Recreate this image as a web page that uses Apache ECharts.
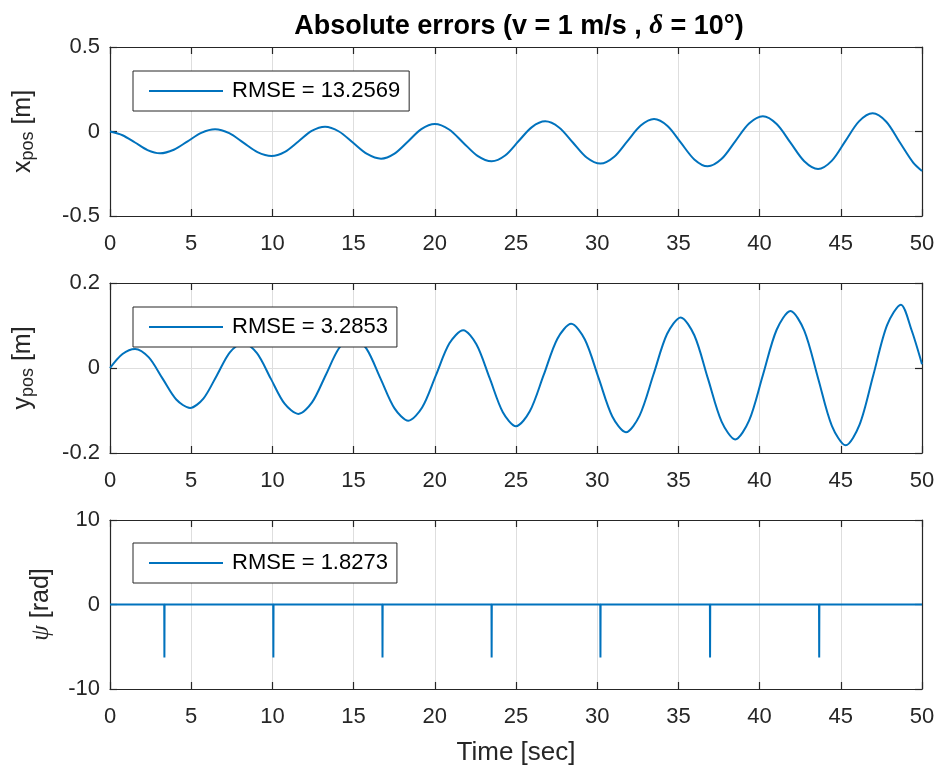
<!DOCTYPE html>
<html>
<head>
<meta charset="utf-8">
<script src="https://cdn.jsdelivr.net/npm/echarts@6/dist/echarts.min.js"></script>
<style>html,body{margin:0;padding:0;background:#fff;}#c{width:941px;height:773px;}</style>
</head>
<body>
<div id="c"></div>
<script>
// ---- data ----
const xTicks = [0, 5, 10, 15, 20, 25, 30, 35, 40, 45, 50];

const xErrT = [0, 0.77, 1.54, 2.31, 3.08, 3.93, 4.78, 5.62, 6.47, 7.34, 8.21, 9.08, 9.95, 10.77, 11.6, 12.42, 13.24, 14.1, 14.97, 15.83, 16.69, 17.52, 18.35, 19.17, 20.0, 20.88, 21.75, 22.63, 23.5, 24.33, 25.15, 25.98, 26.8, 27.65, 28.5, 29.35, 30.2, 31.03, 31.85, 32.68, 33.5, 34.33, 35.15, 35.98, 36.8, 37.65, 38.5, 39.35, 40.2, 41.05, 41.9, 42.75, 43.6, 44.44, 45.28, 46.12, 46.96, 47.8, 48.63, 49.47, 50];
const xErrV = [0, -0.022, -0.065, -0.110, -0.129, -0.108, -0.058, -0.008, 0.013, -0.010, -0.066, -0.122, -0.145, -0.120, -0.059, 0.003, 0.028, 0.000, -0.067, -0.133, -0.161, -0.131, -0.059, 0.014, 0.044, 0.012, -0.066, -0.144, -0.176, -0.142, -0.058, 0.026, 0.060, 0.024, -0.065, -0.154, -0.190, -0.151, -0.058, 0.035, 0.074, 0.033, -0.066, -0.165, -0.206, -0.163, -0.058, 0.047, 0.090, 0.044, -0.066, -0.176, -0.222, -0.174, -0.057, 0.060, 0.108, 0.058, -0.064, -0.186, -0.234];

const yErrT = [0, 0.77, 1.54, 2.39, 3.24, 4.08, 4.93, 5.75, 6.57, 7.38, 8.2, 9.05, 9.9, 10.75, 11.6, 12.44, 13.28, 14.11, 14.95, 15.8, 16.66, 17.52, 18.37, 19.22, 20.06, 20.9, 21.75, 22.56, 23.38, 24.19, 25.0, 25.85, 26.7, 27.55, 28.4, 29.24, 30.09, 30.93, 31.77, 32.61, 33.46, 34.3, 35.14, 35.98, 36.82, 37.66, 38.5, 39.35, 40.2, 41.05, 41.9, 42.75, 43.6, 44.45, 45.3, 46.15, 47.0, 47.85, 48.7, 49.35, 50];
const yErrV = [0, 0.033, 0.045, 0.025, -0.025, -0.074, -0.094, -0.072, -0.018, 0.037, 0.059, 0.035, -0.025, -0.084, -0.108, -0.081, -0.017, 0.047, 0.074, 0.045, -0.025, -0.095, -0.124, -0.093, -0.018, 0.058, 0.089, 0.056, -0.024, -0.104, -0.137, -0.102, -0.017, 0.069, 0.104, 0.067, -0.024, -0.114, -0.151, -0.112, -0.016, 0.080, 0.119, 0.077, -0.025, -0.126, -0.168, -0.124, -0.017, 0.090, 0.134, 0.088, -0.024, -0.136, -0.182, -0.134, -0.017, 0.101, 0.149, 0.090, 0.009];

const psiT = [0, 3.34, 3.35, 3.36, 10.05, 10.06, 10.07, 16.77, 16.78, 16.79, 23.49, 23.5, 23.51, 30.19, 30.2, 30.21, 36.94, 36.95, 36.96, 43.66, 43.67, 43.68, 50];
const psiV = [0, 0, -6.28, 0, 0, -6.28, 0, 0, -6.28, 0, 0, -6.28, 0, 0, -6.28, 0, 0, -6.28, 0, 0, -6.28, 0, 0];

const seriesNames = ['RMSE = 13.2569', 'RMSE = 3.2853', 'RMSE = 1.8273'];
const yRanges = [[-0.5, 0.5, 0.5], [-0.2, 0.2, 0.2], [-10, 10, 10]];

// ---- styling ----
const FONT = 'Liberation Sans, Arial, Helvetica, sans-serif';
const SERIF = 'Liberation Serif, DejaVu Serif, serif';
const AX = '#262626';
const GRIDC = '#dedede';
const BLUE = '#0072BD';

const zip = (t, v) => t.map((x, i) => [x, v[i]]);

const grids = [
  { left: 110, right: 19, top: 47, height: 169, outerBoundsMode: 'none', containLabel: false },
  { left: 110, right: 19, top: 283, height: 170, outerBoundsMode: 'none', containLabel: false },
  { left: 110, right: 19, top: 520, height: 169, outerBoundsMode: 'none', containLabel: false }
];

const xAxes = [], yAxes = [];
const yNames = [
  { text: '{m|x}{s|pos}{m| [m]}', gap: 73 },
  { text: '{m|y}{s|pos}{m| [m]}', gap: 73 },
  { text: '{g|ψ}{m| [rad]}', gap: 55 }
];
const nameRich = {
  m: { fontSize: 25, fontFamily: FONT, color: AX, verticalAlign: 'top', lineHeight: 26 },
  s: { fontSize: 18, fontFamily: FONT, color: AX, verticalAlign: 'bottom', lineHeight: 18, padding: [18, 0, 0, 0] },
  g: { fontSize: 25, fontFamily: SERIF, fontStyle: 'italic', color: AX, verticalAlign: 'top', lineHeight: 26 }
};

for (let i = 0; i < 3; i++) {
  xAxes.push({
    gridIndex: i, type: 'value', min: 0, max: 50, interval: 5, position: 'bottom',
    axisLine: { show: true, onZero: false, lineStyle: { color: AX, width: 1.2 } },
    axisTick: { show: true, inside: true, length: 7, lineStyle: { color: AX, width: 1.2 } },
    axisLabel: { show: true, margin: 17, fontSize: 22, fontFamily: FONT, color: AX },
    splitLine: { show: true, lineStyle: { color: GRIDC, width: 1 } },
    name: i === 2 ? 'Time [sec]' : '',
    nameLocation: 'middle', nameGap: 51,
    nameTextStyle: { fontSize: 26, fontFamily: FONT, color: AX }
  });
  xAxes.push({
    gridIndex: i, type: 'value', min: 0, max: 50, interval: 5, position: 'top',
    axisLine: { show: true, onZero: false, lineStyle: { color: AX, width: 1.2 } },
    axisTick: { show: true, inside: true, length: 7, lineStyle: { color: AX, width: 1.2 } },
    axisLabel: { show: false }, splitLine: { show: false }
  });
  const r = yRanges[i];
  yAxes.push({
    gridIndex: i, type: 'value', min: r[0], max: r[1], interval: r[2], position: 'left',
    axisLine: { show: true, onZero: false, lineStyle: { color: AX, width: 1.2 } },
    axisTick: { show: true, inside: true, length: 7, lineStyle: { color: AX, width: 1.2 } },
    axisLabel: { show: true, margin: 10, fontSize: 22, fontFamily: FONT, color: AX },
    splitLine: { show: true, lineStyle: { color: GRIDC, width: 1 } },
    name: yNames[i].text, nameLocation: 'middle', nameGap: yNames[i].gap, nameRotate: 90,
    nameTextStyle: { rich: nameRich }
  });
  yAxes.push({
    gridIndex: i, type: 'value', min: r[0], max: r[1], interval: r[2], position: 'right',
    axisLine: { show: true, onZero: false, lineStyle: { color: AX, width: 1.2 } },
    axisTick: { show: true, inside: true, length: 7, lineStyle: { color: AX, width: 1.2 } },
    axisLabel: { show: false }, splitLine: { show: false }
  });
}

const legendTops = [71, 307, 543];
const legends = seriesNames.map((n, i) => ({
  data: [n], left: 133, top: legendTops[i], orient: 'horizontal',
  padding: [9, 9, 9, 16], borderColor: AX, borderWidth: 1, backgroundColor: '#fff',
  itemWidth: 74, itemHeight: 2, icon: 'rect', selectedMode: false,
  textStyle: { fontSize: 22, fontFamily: FONT, color: '#000', padding: [0, 0, 0, 4] }
}));

const dataSets = [zip(xErrT, xErrV), zip(yErrT, yErrV), zip(psiT, psiV)];
const series = dataSets.map((d, i) => ({
  name: seriesNames[i], type: 'line', xAxisIndex: i * 2, yAxisIndex: i * 2,
  data: d, showSymbol: false, symbol: 'none', smooth: i < 2 ? 0.3 : false,
  lineStyle: { color: BLUE, width: 2 }, itemStyle: { color: BLUE },
  animation: false, z: 3
}));

const chart = echarts.init(document.getElementById('c'), null, { renderer: 'canvas' });
chart.setOption({
  animation: false,
  backgroundColor: '#fff',
  title: {
    text: '{b|Absolute errors (v = 1 m/s , }{d|δ}{b| = 10°)}',
    left: 514, top: 8, textAlign: 'center',
    textStyle: {
      rich: {
        b: { fontSize: 27, fontWeight: 'bold', fontFamily: FONT, color: '#000' },
        d: { fontSize: 27, fontStyle: 'italic', fontFamily: SERIF, color: '#000' }
      }
    }
  },
  grid: grids,
  xAxis: xAxes,
  yAxis: yAxes,
  legend: legends,
  series: series
});
</script>
</body>
</html>
